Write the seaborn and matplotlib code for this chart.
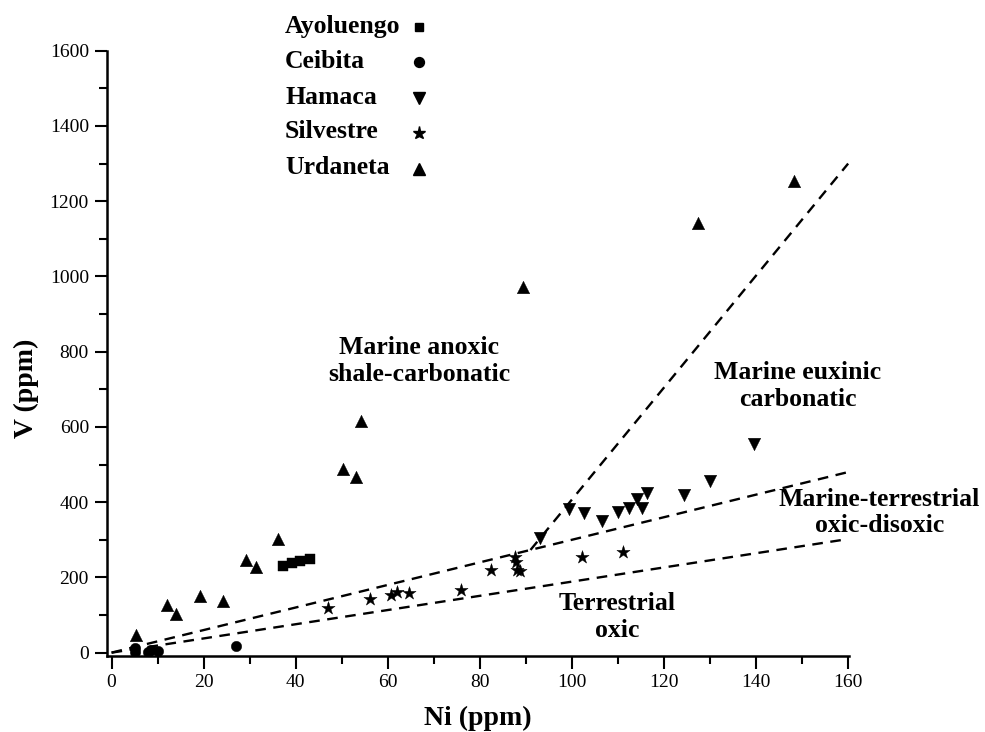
import matplotlib
import matplotlib.pyplot as plt
import pandas as pd
import seaborn as sns
from matplotlib.lines import Line2D
from matplotlib.ticker import MultipleLocator

matplotlib.use("Agg")

# Ni / V contents (ppm), one pair of lists per field
ayoluengo_ni = [37.2, 39.2, 40.9, 43.0]
ayoluengo_v  = [230, 238, 243, 248]

ceibita_ni = [5.0, 5.0, 8.0, 8.6, 10.1, 27.0]
ceibita_v  = [3, 12, 3, 7, 4, 18]

hamaca_ni = [93.1, 99.3, 102.6, 106.5, 110.1, 112.3, 114.1, 115.2, 116.2, 124.3, 130.0, 139.5]
hamaca_v  = [304, 381, 372, 350, 375, 384, 408, 384, 425, 419, 455, 555]

silvestre_ni = [47.1, 56.2, 60.6, 62.1, 64.5, 75.9, 82.5, 87.7, 87.9, 88.0, 88.8, 102.2, 111.1]
silvestre_v  = [118, 143, 153, 161, 158, 167, 220, 255, 242, 220, 218, 255, 267]

urdaneta_ni = [5.2, 12.0, 14.1, 19.2, 24.1, 29.1, 31.3, 36.2, 50.2, 53.1, 54.2, 89.3, 127.4, 148.3]
urdaneta_v  = [48, 127, 103, 151, 138, 246, 227, 301, 488, 466, 617, 972, 1142, 1253]

# boundary lines between depositional environments
oxic_ni,    oxic_v    = [0, 160], [0, 302]
disoxic_ni, disoxic_v = [0, 160], [0, 480]
euxinic_ni, euxinic_v = [91, 160], [273, 1300]

fields = [
    ("Ayoluengo", ayoluengo_ni, ayoluengo_v, "s", 6.5),
    ("Ceibita",   ceibita_ni,   ceibita_v,   "o", 7.5),
    ("Hamaca",    hamaca_ni,    hamaca_v,    "v", 9.0),
    ("Silvestre", silvestre_ni, silvestre_v, "*", 10.0),
    ("Urdaneta",  urdaneta_ni,  urdaneta_v,  "^", 9.0),
]

sns.set_theme(style="ticks")
plt.rcParams["font.family"] = ["Liberation Serif", "DejaVu Serif"]
for key in ["text.color", "axes.labelcolor", "xtick.color", "ytick.color",
            "axes.edgecolor"]:
    plt.rcParams[key] = "black"

W, H = 985, 732
fig = plt.figure(figsize=(W / 100, H / 100), dpi=100)
ax = fig.add_axes([0.1086, 0.1038, 0.7534, 0.8269])

for name, ni, v, mk, ms in fields:
    df = pd.DataFrame({"Ni": ni, "V": v})
    sns.scatterplot(data=df, x="Ni", y="V", marker=mk, s=ms ** 2,
                    color="black", edgecolor="black", linewidth=0.3,
                    ax=ax, legend=False, zorder=3)

for xs, ys in [(oxic_ni, oxic_v), (disoxic_ni, disoxic_v), (euxinic_ni, euxinic_v)]:
    ax.plot(xs, ys, color="black", lw=1.7, ls=(0, (4.5, 3.2)), zorder=2)

bold = dict(fontsize=18.5, fontweight="bold", ha="center", va="center",
            multialignment="center")
ax.text(66.8, 776, "Marine anoxic\nshale-carbonatic", **bold)
ax.text(149.0, 709, "Marine euxinic\ncarbonatic", **bold)
ax.text(166.8, 372, "Marine-terrestrial\noxic-disoxic", clip_on=False, **bold)
ax.text(109.8, 95, "Terrestrial\noxic", **bold)

ax.set_xlim(-1, 160.2)
ax.set_ylim(-9, 1600)
ax.xaxis.set_major_locator(MultipleLocator(20))
ax.xaxis.set_minor_locator(MultipleLocator(10))
ax.yaxis.set_major_locator(MultipleLocator(200))
ax.yaxis.set_minor_locator(MultipleLocator(100))
ax.tick_params(which="major", direction="out", length=9, width=1.5,
               labelsize=14, pad=4)
ax.tick_params(which="minor", direction="out", length=5.5, width=1.5)

ax.set_xlabel("Ni (ppm)", fontsize=20, fontweight="bold", va="baseline")
ax.set_ylabel("V (ppm)", fontsize=20, fontweight="bold", va="baseline")
ax.xaxis.set_label_coords(0.5, -0.114)
ax.yaxis.set_label_coords(-0.0997, 0.443)

sns.despine(ax=ax, top=True, right=True)
for side in ["left", "bottom"]:
    ax.spines[side].set_linewidth(1.8)

# legend: names left-aligned, symbols in a column to the right
row_y = [26, 61, 97, 132, 168]
for (name, _, _, mk, ms), y in zip(fields, row_y):
    fig.text(285 / W, 1 - y / H, name, fontsize=18.5, fontweight="bold",
             ha="left", va="center")
    fig.add_artist(Line2D([419 / W], [1 - (y + 1) / H], transform=fig.transFigure,
                          marker=mk, color="black", ls="none", markersize=ms * 0.95))

fig.savefig("out.png", dpi=100)
